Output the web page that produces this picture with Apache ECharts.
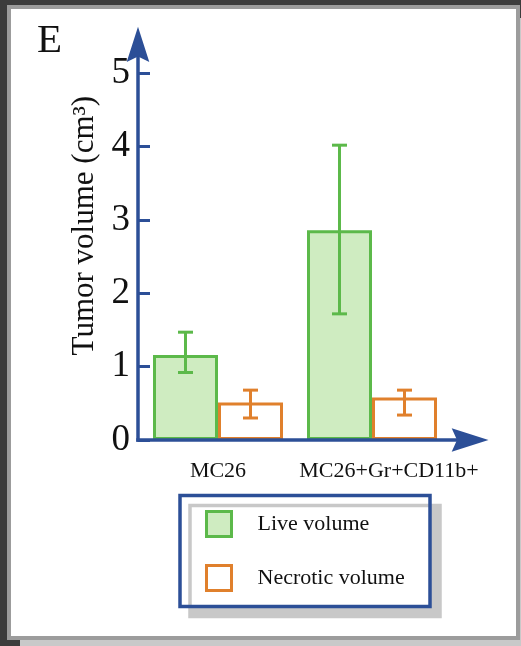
<!DOCTYPE html>
<html>
<head>
<meta charset="utf-8">
<script src="https://cdn.jsdelivr.net/npm/echarts@6/dist/echarts.min.js"></script>
<style>
  html, body { margin: 0; padding: 0; background: #3c3c3c; overflow: hidden; }
  #panel {
    position: absolute; left: 7px; top: 5px; width: 513px; height: 635px;
    box-sizing: border-box; border: 4px solid #9c9c9c; background: #fff;
    box-shadow: 13px 13px 0 #c9c9c9;
  }
  #main { position: absolute; left: 0; top: 0; width: 521px; height: 646px; }
</style>
</head>
<body>
<div id="panel"></div>
<div id="main"></div>
<script>
// 数据
var categories = ['MC26', 'MC26+Gr+CD11b+'];
var liveMean = [1.16, 2.86];
var liveLow = [0.92, 1.72];
var liveHigh = [1.47, 4.02];
var necroticMean = [0.51, 0.58];
var necroticLow = [0.30, 0.34];
var necroticHigh = [0.68, 0.68];
var yTicks = [0, 1, 2, 3, 4, 5];

var BLUE = '#2c4f97';
var GREEN = '#5cb94a';
var GREEN_FILL = '#cfecc1';
var ORANGE = '#e0802c';
var FONT = '"Liberation Serif", "Times New Roman", serif';
var BAR_W = 65;

var chart = echarts.init(document.getElementById('main'), null, { renderer: 'canvas' });

// 误差线
function errorData(low, high) {
  return low.map(function (v, i) { return [i, v, high[i]]; });
}
function errorRender(offset, color) {
  return function (params, api) {
    var idx = api.value(0);
    var top = api.coord([idx, api.value(2)]);
    var bot = api.coord([idx, api.value(1)]);
    var x = top[0] + offset;
    var cap = 7.5;
    var style = { stroke: color, lineWidth: 3 };
    return {
      type: 'group',
      children: [
        { type: 'line', shape: { x1: x, y1: top[1], x2: x, y2: bot[1] }, style: style },
        { type: 'line', shape: { x1: x - cap, y1: top[1], x2: x + cap, y2: top[1] }, style: style },
        { type: 'line', shape: { x1: x - cap, y1: bot[1], x2: x + cap, y2: bot[1] }, style: style }
      ]
    };
  };
}

var option = {
  animation: false,
  title: {
    text: 'E', left: 32, top: 16,
    textStyle: { fontFamily: FONT, fontSize: 41, fontWeight: 'normal', color: '#111' }
  },
  grid: { left: 141, right: 72, top: 73.3, bottom: 206 },
  legend: {
    data: ['Live volume', 'Necrotic volume'],
    orient: 'vertical',
    left: 205, top: 510,
    padding: 0,
    itemWidth: 25, itemHeight: 25, itemGap: 26,
    icon: 'rect',
    selectedMode: false,
    itemStyle: { borderWidth: 3 },
    textStyle: { fontFamily: FONT, fontSize: 22, color: '#111', padding: [0, 0, 0, 21] }
  },
  xAxis: {
    type: 'category',
    data: categories,
    axisLine: { show: false },
    axisTick: { show: false },
    axisLabel: {
      interval: 0,
      hideOverlap: false,
      margin: 20,
      fontFamily: FONT, fontSize: 22, color: '#111',
      formatter: function (v, i) { return i === 1 ? '{r|' + v + '}' : v; },
      rich: { r: { fontFamily: FONT, fontSize: 22, color: '#111', padding: [0, 0, 0, 34] } }
    }
  },
  yAxis: {
    type: 'value',
    offset: 3,
    min: yTicks[0], max: yTicks[yTicks.length - 1], interval: 1,
    name: 'Tumor volume (cm³)',
    nameLocation: 'middle', nameRotate: 90, nameGap: 38,
    nameTextStyle: { fontFamily: FONT, fontSize: 31, color: '#111', padding: [0, 0, 0, 62] },
    axisLine: { show: false },
    axisTick: { show: true, inside: true, length: 12, lineStyle: { color: BLUE, width: 3 } },
    splitLine: { show: false },
    axisLabel: { margin: 8, fontFamily: FONT, fontSize: 37, color: '#111' }
  },
  series: [
    {
      name: 'Live volume', type: 'bar', data: liveMean,
      barWidth: BAR_W, barGap: '0%',
      itemStyle: { color: GREEN_FILL, borderColor: GREEN, borderWidth: 3 }
    },
    {
      name: 'Necrotic volume', type: 'bar', data: necroticMean,
      barWidth: BAR_W, barGap: '0%',
      itemStyle: { color: '#fff', borderColor: ORANGE, borderWidth: 3 }
    },
    {
      name: 'liveErr', type: 'custom', data: errorData(liveLow, liveHigh),
      encode: { x: 0, y: [1, 2] }, z: 5,
      renderItem: errorRender(-BAR_W / 2, GREEN)
    },
    {
      name: 'necErr', type: 'custom', data: errorData(necroticLow, necroticHigh),
      encode: { x: 0, y: [1, 2] }, z: 5,
      renderItem: errorRender(BAR_W / 2, ORANGE)
    }
  ],
  graphic: [
    // 图例外框
    {
      type: 'rect', z: 1,
      shape: { x: 180, y: 495.5, width: 250, height: 111 },
      style: { fill: '#fff', stroke: BLUE, lineWidth: 3.5, shadowColor: '#c8c8c8', shadowOffsetX: 10, shadowOffsetY: 10, shadowBlur: 0 }
    },
    // 坐标轴
    { type: 'line', z: 100, shape: { x1: 138, y1: 441.7, x2: 138, y2: 50 }, style: { stroke: BLUE, lineWidth: 3.5 } },
    { type: 'polygon', z: 100, shape: { points: [[138, 26.7], [149.3, 62], [138, 56.5], [126.7, 62]] }, style: { fill: BLUE } },
    { type: 'line', z: 100, shape: { x1: 136.3, y1: 440, x2: 465, y2: 440 }, style: { stroke: BLUE, lineWidth: 3.5 } },
    { type: 'polygon', z: 100, shape: { points: [[488.5, 440], [451.7, 428.3], [457, 440], [451.7, 451.7]] }, style: { fill: BLUE } }
  ]
};

chart.setOption(option);
</script>
</body>
</html>
